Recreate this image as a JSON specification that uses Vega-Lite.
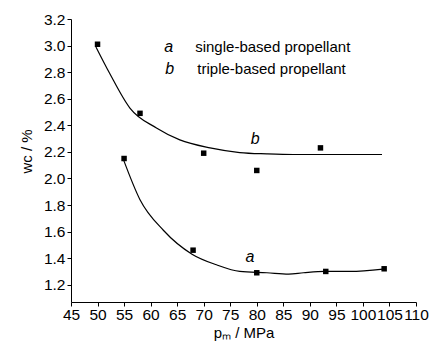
{
  "$schema": "https://vega.github.io/schema/vega-lite/v6.json",
  "width": 345,
  "height": 283,
  "autosize": {"type": "none"},
  "padding": {"left": 71, "top": 19, "right": 17, "bottom": 48},
  "background": "white",
  "config": {
    "view": {"stroke": null},
    "font": "Liberation Sans",
    "axis": {"grid": false, "domainColor": "black", "tickColor": "black", "labelColor": "black", "titleColor": "black", "labelFont": "Liberation Sans", "titleFont": "Liberation Sans", "labelFontSize": 15.5, "titleFontSize": 15, "titleFontWeight": "normal", "domainWidth": 1, "tickWidth": 1}
  },
  "datasets": {
    "curves": [
      {"series": "b", "p": 49.7, "w": 2.99},
      {"series": "b", "p": 52.3, "w": 2.79},
      {"series": "b", "p": 56.1, "w": 2.53},
      {"series": "b", "p": 61.1, "w": 2.38},
      {"series": "b", "p": 65.5, "w": 2.29},
      {"series": "b", "p": 71.2, "w": 2.23},
      {"series": "b", "p": 76.8, "w": 2.195},
      {"series": "b", "p": 81.9, "w": 2.185},
      {"series": "b", "p": 86.9, "w": 2.18},
      {"series": "b", "p": 103.6, "w": 2.18},
      {"series": "a", "p": 54.9, "w": 2.14},
      {"series": "a", "p": 58.0, "w": 1.84},
      {"series": "a", "p": 62.4, "w": 1.61},
      {"series": "a", "p": 67.8, "w": 1.43},
      {"series": "a", "p": 72.4, "w": 1.35},
      {"series": "a", "p": 76.8, "w": 1.30},
      {"series": "a", "p": 81.9, "w": 1.29},
      {"series": "a", "p": 86.0, "w": 1.28},
      {"series": "a", "p": 88.8, "w": 1.29},
      {"series": "a", "p": 92.8, "w": 1.30},
      {"series": "a", "p": 97.6, "w": 1.30},
      {"series": "a", "p": 103.8, "w": 1.318}
    ],
    "points": [
      {"series": "b", "p": 50, "w": 3.01},
      {"series": "b", "p": 58, "w": 2.49},
      {"series": "b", "p": 70, "w": 2.19},
      {"series": "b", "p": 80, "w": 2.06},
      {"series": "b", "p": 92, "w": 2.23},
      {"series": "a", "p": 55, "w": 2.15},
      {"series": "a", "p": 68, "w": 1.46},
      {"series": "a", "p": 80, "w": 1.29},
      {"series": "a", "p": 93, "w": 1.30},
      {"series": "a", "p": 104, "w": 1.32}
    ],
    "curveLabels": [
      {"label": "a", "p": 78.7, "w": 1.41},
      {"label": "b", "p": 79.7, "w": 2.30},
      {"label": "a", "p": 63.4, "w": 2.99},
      {"label": "b", "p": 63.6, "w": 2.82}
    ],
    "legendText": [
      {"label": "single-based propellant", "p": 68.4, "w": 2.99},
      {"label": "triple-based propellant", "p": 68.8, "w": 2.82}
    ]
  },
  "encoding": {
    "x": {"field": "p", "type": "quantitative", "scale": {"domain": [45, 110], "nice": false, "zero": false},
      "axis": {"title": "pₘ / MPa", "values": [45,50,55,60,65,70,75,80,85,90,95,100,105,110], "tickSize": 4, "labelPadding": 1, "titlePadding": 3, "labelFlush": false, "labelOverlap": false}},
    "y": {"field": "w", "type": "quantitative", "scale": {"domain": [1.07, 3.2], "nice": false, "zero": false},
      "axis": {"title": "wc / %", "values": [1.2,1.4,1.6,1.8,2.0,2.2,2.4,2.6,2.8,3.0,3.2], "format": ".1f", "tickSize": 4, "labelPadding": 2, "titlePadding": 9, "titleY": 132, "labelFlush": false, "labelOverlap": false}}
  },
  "layer": [
    {"data": {"name": "curves"}, "mark": {"type": "line", "color": "black", "strokeWidth": 1.2, "interpolate": "monotone"},
      "encoding": {"detail": {"field": "series"}}},
    {"data": {"name": "points"}, "mark": {"type": "point", "shape": "square", "filled": true, "color": "black", "size": 30, "opacity": 1}},
    {"data": {"name": "curveLabels"}, "mark": {"type": "text", "fontStyle": "italic", "fontSize": 16, "align": "center", "baseline": "middle", "color": "black"},
      "encoding": {"text": {"field": "label"}}},
    {"data": {"name": "legendText"}, "mark": {"type": "text", "fontSize": 15, "align": "left", "baseline": "middle", "color": "black"},
      "encoding": {"text": {"field": "label"}}}
  ]
}
